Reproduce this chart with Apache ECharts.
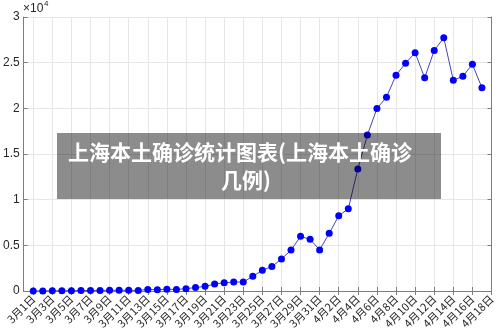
<!DOCTYPE html>
<html lang="zh-CN">

<head>
    <meta charset="UTF-8">
    <title>上海本土确诊统计图表</title>
    <script src="https://cdn.jsdelivr.net/npm/echarts@6/dist/echarts.min.js"></script>
    <style>
        body { margin: 0; background: #fff; }
    </style>
</head>

<body>
    <div id="main" style="width: 500px;height:334px;"></div>

    <script>
        // 日期 (前面多一格空位, 对应 2月28日)
        const dates = ['', '3月1日', '3月2日', '3月3日', '3月4日', '3月5日', '3月6日', '3月7日', '3月8日', '3月9日', '3月10日',
            '3月11日', '3月12日', '3月13日', '3月14日', '3月15日', '3月16日', '3月17日', '3月18日', '3月19日', '3月20日',
            '3月21日', '3月22日', '3月23日', '3月24日', '3月25日', '3月26日', '3月27日', '3月28日', '3月29日', '3月30日',
            '3月31日', '4月1日', '4月2日', '4月3日', '4月4日', '4月5日', '4月6日', '4月7日', '4月8日', '4月9日',
            '4月10日', '4月11日', '4月12日', '4月13日', '4月14日', '4月15日', '4月16日', '4月17日', '4月18日'];

        // 每日本土确诊+无症状 (3月1日 - 4月17日)
        const cases = [2, 5, 16, 19, 28, 48, 55, 65, 80, 75,
            83, 65, 169, 139, 202, 158, 260, 374, 509, 758,
            896, 981, 983, 1609, 2269, 2676, 3500, 4477, 5982, 5653,
            4502, 6311, 8226, 9006, 13354, 17077, 19982, 21222, 23624, 24943,
            26087, 23342, 26330, 27719, 23072, 23513, 24820, 22248];

        // y轴刻度 (单位 ×10^4)
        const yTicks = ['0', '0.5', '1', '1.5', '2', '2.5', '3'];

        const titleLines = ['上海本土确诊统计图表(上海本土确诊', '几例)'];

        const seriesData = [null].concat(cases, [null]);
        const everyOther = (index) => index % 2 === 1;
        const boxColor = '#7d7d7d';
        const textColor = '#262626';

        const myChart = echarts.init(document.getElementById('main'));

        let option = {
            animation: false,
            grid: { left: 22, right: 8.5, top: 17, bottom: 43, containLabel: false },
            xAxis: [
                {
                    type: 'category',
                    data: dates,
                    boundaryGap: false,
                    axisLine: { show: true, lineStyle: { color: boxColor } },
                    axisTick: { inside: true, length: 4, interval: everyOther, lineStyle: { color: boxColor } },
                    axisLabel: {
                        interval: everyOther, rotate: 45, margin: 6,
                        fontSize: 11, color: textColor, fontFamily: 'Noto Sans CJK SC'
                    },
                    splitLine: { show: true, interval: everyOther, lineStyle: { color: '#e6e6e6' } }
                },
                {
                    type: 'category',
                    data: dates,
                    position: 'top',
                    boundaryGap: false,
                    axisLine: { show: true, lineStyle: { color: boxColor } },
                    axisTick: { inside: true, length: 4, interval: everyOther, lineStyle: { color: boxColor } },
                    axisLabel: { show: false },
                    splitLine: { show: false }
                }
            ],
            yAxis: [
                {
                    type: 'value',
                    min: 0, max: 30000, interval: 5000,
                    axisLine: { show: true, lineStyle: { color: boxColor } },
                    axisTick: { show: true, inside: true, length: 4, lineStyle: { color: boxColor } },
                    axisLabel: {
                        margin: 4, fontSize: 12, color: textColor, fontFamily: 'Liberation Sans',
                        formatter: (v) => yTicks[Math.round(v / 5000)]
                    },
                    splitLine: { show: true, lineStyle: { color: '#e6e6e6' } }
                },
                {
                    type: 'value',
                    position: 'right',
                    min: 0, max: 30000, interval: 5000,
                    axisLine: { show: true, lineStyle: { color: boxColor } },
                    axisTick: { show: true, inside: true, length: 4, lineStyle: { color: boxColor } },
                    axisLabel: { show: false },
                    splitLine: { show: false }
                }
            ],
            series: [
                {
                    name: '上海本土确诊',
                    type: 'line',
                    data: seriesData,
                    clip: false,
                    symbol: 'circle',
                    symbolSize: 7,
                    showAllSymbol: true,
                    itemStyle: { color: '#0000ff' },
                    lineStyle: { color: '#4646b0', width: 1 },
                    z: 3
                }
            ],
            graphic: [
                { type: 'text', left: 23, top: 3, style: { text: '×10', fontSize: 12, fill: textColor, fontFamily: 'Liberation Sans' } },
                { type: 'text', left: 44, top: 0, style: { text: '4', fontSize: 8, fill: textColor, fontFamily: 'Liberation Sans' } },
                {
                    type: 'rect', z: 100,
                    shape: { x: 57, y: 133, width: 384, height: 66 },
                    style: { fill: 'rgba(0,0,0,0.45)' }
                },
                {
                    type: 'text', z: 101, x: 240, y: 152,
                    style: {
                        text: titleLines[0], fill: '#fff', fontSize: 21, fontWeight: 'bold',
                        fontFamily: 'Noto Sans CJK SC', align: 'center', verticalAlign: 'middle'
                    }
                },
                {
                    type: 'text', z: 101, x: 246, y: 180,
                    style: {
                        text: titleLines[1], fill: '#fff', fontSize: 21, fontWeight: 'bold',
                        fontFamily: 'Noto Sans CJK SC', align: 'center', verticalAlign: 'middle'
                    }
                }
            ]
        };

        myChart.setOption(option);
    </script>
</body>

</html>
